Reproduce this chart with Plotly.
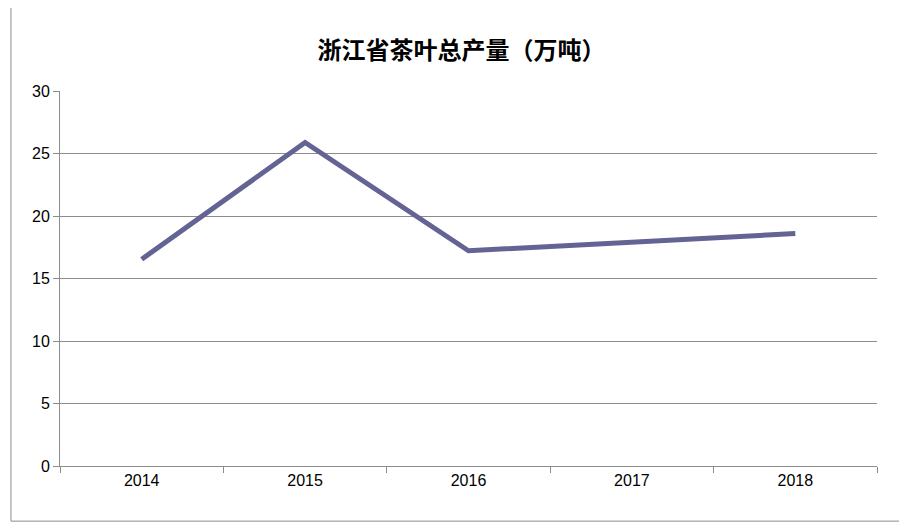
import plotly.graph_objects as go

years = ['2014', '2015', '2016', '2017', '2018']
output = [16.54, 25.88, 17.22, 17.9, 18.6]
labels = ['16.54', '25.88', '17.22', '17.9', '18.6']
label_dx = [28, 34, 34, 30, 30]
label_dy = [-2, 0, -2, -3, 0]

fig = go.Figure()
fig.add_trace(go.Scatter(
    x=years, y=output, mode='lines',
    line=dict(color='#636394', width=5), cliponaxis=False))

for yr, v, t, dx, dy in zip(years, output, labels, label_dx, label_dy):
    fig.add_annotation(x=yr, y=v, text=t, showarrow=False, xanchor='left',
                       yanchor='top' if dy < 0 else 'middle', xshift=dx - 28 + 2,
                       yshift=dy, font=dict(size=16, color='#000000', family='Liberation Sans'))

fig.update_layout(
    width=907, height=530,
    margin=dict(l=52, r=38, t=83, b=72),
    paper_bgcolor='white', plot_bgcolor='white',
    font=dict(family='Noto Sans CJK SC, Liberation Sans', color='#000000'),
    title=dict(text='<b>浙江省茶叶总产量（万吨）</b>', x=0.5, y=0.935, xanchor='center',
               font=dict(size=24, family='Noto Sans CJK SC')),
    showlegend=False,
    shapes=[dict(type='rect', xref='paper', yref='paper', x0=-0.06, x1=1.0416, y0=-0.147, y1=1.227,
                 line=dict(color='#8c8c8c', width=1))],
)
fig.update_xaxes(type='category', range=[-0.5, 4.5], tickson='boundaries', ticks='outside', ticklen=6,
                 tickcolor='#8c8c8c', showline=True, linecolor='#8c8c8c',
                 showgrid=False, tickfont=dict(size=16, family='Liberation Sans'))
fig.update_yaxes(range=[0, 30], dtick=5, ticks='outside', ticklen=6, tickcolor='#8c8c8c',
                 showline=True, linecolor='#8c8c8c', gridcolor='#8c8c8c', zeroline=False,
                 tickfont=dict(size=16, family='Liberation Sans'))

fig.write_html('out.html')
